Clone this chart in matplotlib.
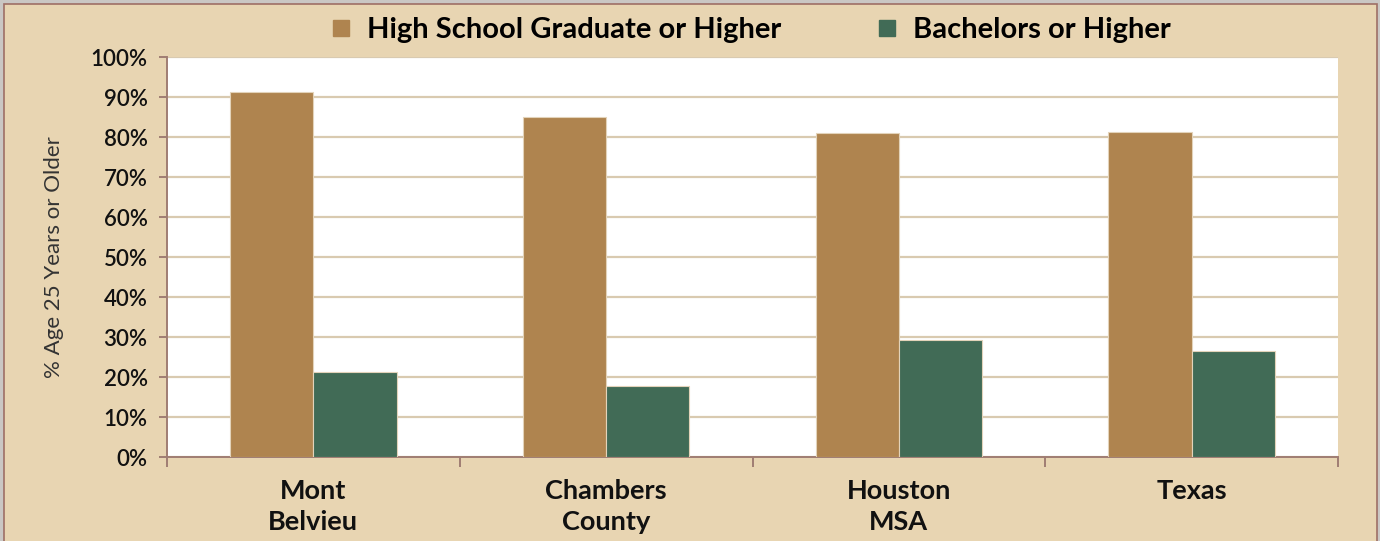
import matplotlib
matplotlib.use("Agg")
import matplotlib.pyplot as plt
from matplotlib.lines import Line2D
from matplotlib.patches import Rectangle
import numpy as np

# Educational attainment, population aged 25 and older
categories = ["Mont\nBelvieu", "Chambers\nCounty", "Houston\nMSA", "Texas"]
high_school = [91.2, 84.9, 80.9, 81.2]
bachelors = [21.2, 17.8, 29.2, 26.6]
series_names = ["High School Graduate or Higher", "Bachelors or Higher"]
y_ticks = list(range(0, 101, 10))
y_tick_labels = [f"{v}%" for v in y_ticks]

BG = "#E8D5B2"
BROWN = "#AF844F"
GREEN = "#416B56"
GRID = "#D9CAB0"
AXIS = "#A07D73"
FONT = ["Lato", "DejaVu Sans"]

fig = plt.figure(figsize=(13.8, 5.41), dpi=100)
fig.patch.set_facecolor("#CAC7C4")
fig.patches.append(Rectangle((4 / 1380, -0.01), 1373 / 1380, 1 - 4 / 541 + 0.01,
                             transform=fig.transFigure, facecolor=BG,
                             edgecolor="#9E6F66", linewidth=1.2, zorder=-10))

ax = fig.add_axes([167 / 1380, 84 / 541, 1171 / 1380, 400 / 541])
ax.set_facecolor("white")

x = np.arange(len(categories))
w = 0.284
ax.bar(x - w / 2, high_school, w, color=BROWN, edgecolor="#E3D3BA",
       linewidth=0.8, zorder=3, label=series_names[0])
ax.bar(x + w / 2, bachelors, w, color=GREEN, edgecolor="#E3D3BA",
       linewidth=0.8, zorder=3, label=series_names[1])

ax.set_xlim(-0.5, len(categories) - 0.5)
ax.set_ylim(0, 100)
ax.set_yticks(y_ticks)
ax.set_yticklabels(y_tick_labels, fontfamily=FONT, fontweight="semibold",
                   fontsize=16, color="#111111")
ax.yaxis.grid(True, color=GRID, linewidth=1.6, zorder=1)
ax.set_axisbelow(True)

# category boundaries carry the x ticks
ax.set_xticks(np.arange(-0.5, len(categories), 1.0))
ax.set_xticklabels([])
ax.set_xticks(x, minor=True)
ax.set_xticklabels(categories, minor=True, fontfamily=FONT,
                   fontweight="bold", fontsize=19.5, color="#111111",
                   linespacing=1.35)
ax.tick_params(axis="x", which="minor", length=0, pad=16)
ax.tick_params(axis="x", which="major", length=7, width=1.4, color=AXIS,
               direction="out")
ax.tick_params(axis="y", length=6, width=1.4, color=AXIS, pad=8,
               direction="out")

for side in ("top", "right"):
    ax.spines[side].set_visible(False)
for side in ("left", "bottom"):
    ax.spines[side].set_color(AXIS)
    ax.spines[side].set_linewidth(1.4)

ax.set_ylabel("% Age 25 Years or Older", fontfamily=FONT, fontweight="normal",
              fontsize=16, color="#333333", labelpad=19)

handles = [Line2D([], [], linestyle="none", marker="s", markersize=11,
                  markerfacecolor=c, markeredgecolor=c) for c in (BROWN, GREEN)]
fig.legend(handles, series_names, loc="center", bbox_to_anchor=(750 / 1380, 1 - 30 / 541),
           ncol=2, frameon=False, prop={"family": FONT, "weight": "bold", "size": 21},
           handletextpad=0.5, columnspacing=3.2, handlelength=0.8)

fig.savefig("out.png", dpi=100, facecolor=fig.get_facecolor())
